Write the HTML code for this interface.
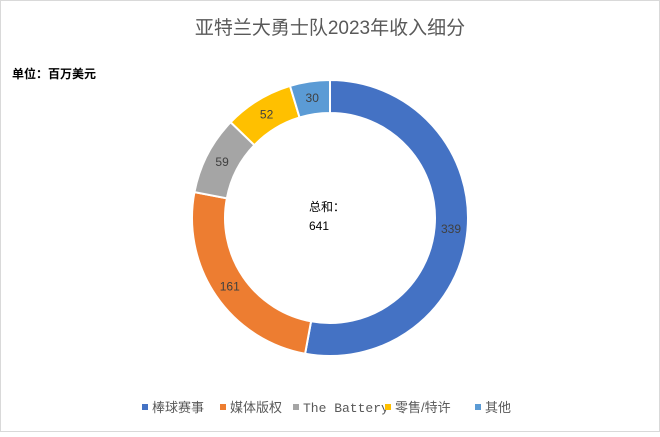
<!DOCTYPE html>
<html><head><meta charset="utf-8"><style>
body{margin:0;background:#fff;}
#c{position:relative;width:660px;height:432px;font-family:"Liberation Sans","Noto Sans CJK SC",sans-serif;}
</style></head><body>
<div id="c">
<svg width="660" height="432">
<rect x="0.5" y="0.5" width="659" height="431" fill="#fff" stroke="#d9d9d9"/>
<text x="330" y="34" text-anchor="middle" font-size="19" fill="#595959">亚特兰大勇士队2023年收入细分</text>
<text x="12" y="78" font-size="12" font-weight="bold" fill="#000">单位：百万美元</text>
<g id="donut"></g>
<text x="309" y="211" font-size="12" fill="#000">总和：</text>
<text x="309" y="230" font-size="12" fill="#000">641</text>
<g id="legend"></g>
</svg>
</div>
<script>
const categories=["棒球赛事","媒体版权","The Battery","零售/特许","其他"];
const values=[339,161,59,52,30];
const colors=["#4472c4","#ed7d31","#a5a5a5","#ffc000","#5b9bd5"];
const NS="http://www.w3.org/2000/svg";
const cx=330,cy=218,R=138,r=105;
const g=document.getElementById('donut');
const total=values.reduce((a,b)=>a+b,0);
function pt(a,rad){return [cx+rad*Math.sin(a),cy-rad*Math.cos(a)];}
let acc=0;
values.forEach((v,i)=>{
 const a0=acc/total*2*Math.PI;acc+=v;const a1=acc/total*2*Math.PI;
 const lg=(a1-a0)>Math.PI?1:0;
 const p1=pt(a0,R),p2=pt(a1,R),p3=pt(a1,r),p4=pt(a0,r);
 const p=document.createElementNS(NS,'path');
 p.setAttribute('d',`M${p1[0]},${p1[1]}A${R},${R} 0 ${lg} 1 ${p2[0]},${p2[1]}L${p3[0]},${p3[1]}A${r},${r} 0 ${lg} 0 ${p4[0]},${p4[1]}Z`);
 p.setAttribute('fill',colors[i]);p.setAttribute('stroke','#fff');p.setAttribute('stroke-width','2');
 
 
 g.appendChild(p);
 const am=(a0+a1)/2,lp=pt(am,(R+r)/2);
 const t=document.createElementNS(NS,'text');
 t.setAttribute('x',lp[0]);t.setAttribute('y',lp[1]+4);t.setAttribute('text-anchor','middle');
 t.setAttribute('font-size','12');t.setAttribute('fill','#404040');t.textContent=v;
 
 
 g.appendChild(t);
});
const lx=[142,220,293,385,475];
const lgd=document.getElementById('legend');
categories.forEach((c,i)=>{
 const s=document.createElementNS(NS,'rect');
 s.setAttribute('x',lx[i]);s.setAttribute('y',404);s.setAttribute('width',6);s.setAttribute('height',6);s.setAttribute('fill',colors[i]);
 
 
 lgd.appendChild(s);
 const t=document.createElementNS(NS,'text');
 t.setAttribute('x',lx[i]+10);t.setAttribute('y',412);t.setAttribute('font-size','13');t.setAttribute('fill','#595959');
 if(i===2)t.setAttribute('font-family','"Liberation Mono",monospace');
 t.textContent=c;
 
 
 lgd.appendChild(t);
});
</script>
</body></html>
